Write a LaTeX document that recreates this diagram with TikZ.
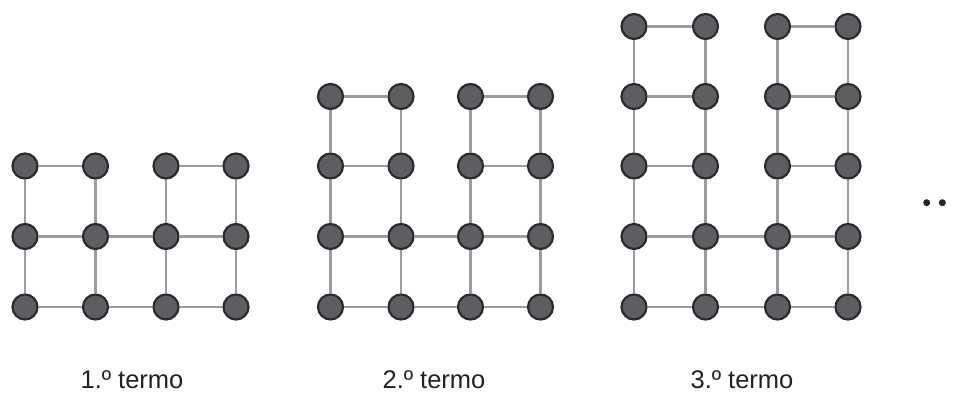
\documentclass[tikz,border=0pt]{standalone}
\usepackage{fontspec}
\setmainfont{Liberation Sans}
\definecolor{nodefill}{HTML}{5E5E62}
\definecolor{nodeborder}{HTML}{2B2B2B}
\definecolor{edgegray}{HTML}{9C9C9C}
\definecolor{textdark}{HTML}{222222}
\begin{document}
\begin{tikzpicture}[x=1pt,y=-1pt,
  dot/.style={circle,fill=nodefill,draw=nodeborder,line width=2.2pt,minimum size=25pt,inner sep=0pt},
  link/.style={draw=edgegray,line width=2.8pt},
  termlabel/.style={font=\fontsize{25.5}{30}\selectfont,text=textdark,anchor=base,inner sep=0pt},
  ellip/.style={circle,fill=black!85,minimum size=7pt,inner sep=0pt}]
\path[use as bounding box] (0,0) rectangle (955,393);

% ---------- 1.º termo ----------
\foreach \r/\y in {1/307,2/236.5,3/166}{
  \foreach \c/\x in {1/25,2/95.5,3/166,4/236}{
    \node[dot] (a\r\c) at (\x,\y) {};
  }
}
\foreach \r in {1,2}{
  \foreach \c/\d in {1/2,2/3,3/4}{ \draw[link] (a\r\c) -- (a\r\d); }
}
\draw[link] (a31) -- (a32);
\draw[link] (a33) -- (a34);
\foreach \c in {1,2,3,4}{
  \foreach \r/\s in {1/2,2/3}{ \draw[link] (a\r\c) -- (a\s\c); }
}
\node[termlabel] (l1) at (132,388.5) {1.º termo};

% ---------- 2.º termo ----------
\foreach \r/\y in {1/307,2/236.5,3/166,4/96.5}{
  \foreach \c/\x in {1/330.5,2/401,3/470.5,4/540.5}{
    \node[dot] (b\r\c) at (\x,\y) {};
  }
}
\foreach \r in {1,2}{
  \foreach \c/\d in {1/2,2/3,3/4}{ \draw[link] (b\r\c) -- (b\r\d); }
}
\foreach \r in {3,4}{
  \draw[link] (b\r1) -- (b\r2);
  \draw[link] (b\r3) -- (b\r4);
}
\foreach \c in {1,2,3,4}{
  \foreach \r/\s in {1/2,2/3,3/4}{ \draw[link] (b\r\c) -- (b\s\c); }
}
\node[termlabel] (l2) at (434,388.5) {2.º termo};

% ---------- 3.º termo ----------
\foreach \r/\y in {1/307,2/236.5,3/166,4/96.5,5/26.5}{
  \foreach \c/\x in {1/634,2/705.5,3/777.5,4/848}{
    \node[dot] (c\r\c) at (\x,\y) {};
  }
}
\foreach \r in {1,2}{
  \foreach \c/\d in {1/2,2/3,3/4}{ \draw[link] (c\r\c) -- (c\r\d); }
}
\foreach \r in {3,4,5}{
  \draw[link] (c\r1) -- (c\r2);
  \draw[link] (c\r3) -- (c\r4);
}
\foreach \c in {1,2,3,4}{
  \foreach \r/\s in {1/2,2/3,3/4,4/5}{ \draw[link] (c\r\c) -- (c\s\c); }
}
\node[termlabel] (l3) at (742,388.5) {3.º termo};

% ---------- ellipsis ----------
\node[ellip] (e1) at (926.7,202.7) {};
\node[ellip] (e2) at (942.3,202.7) {};
\end{tikzpicture}
\end{document}
